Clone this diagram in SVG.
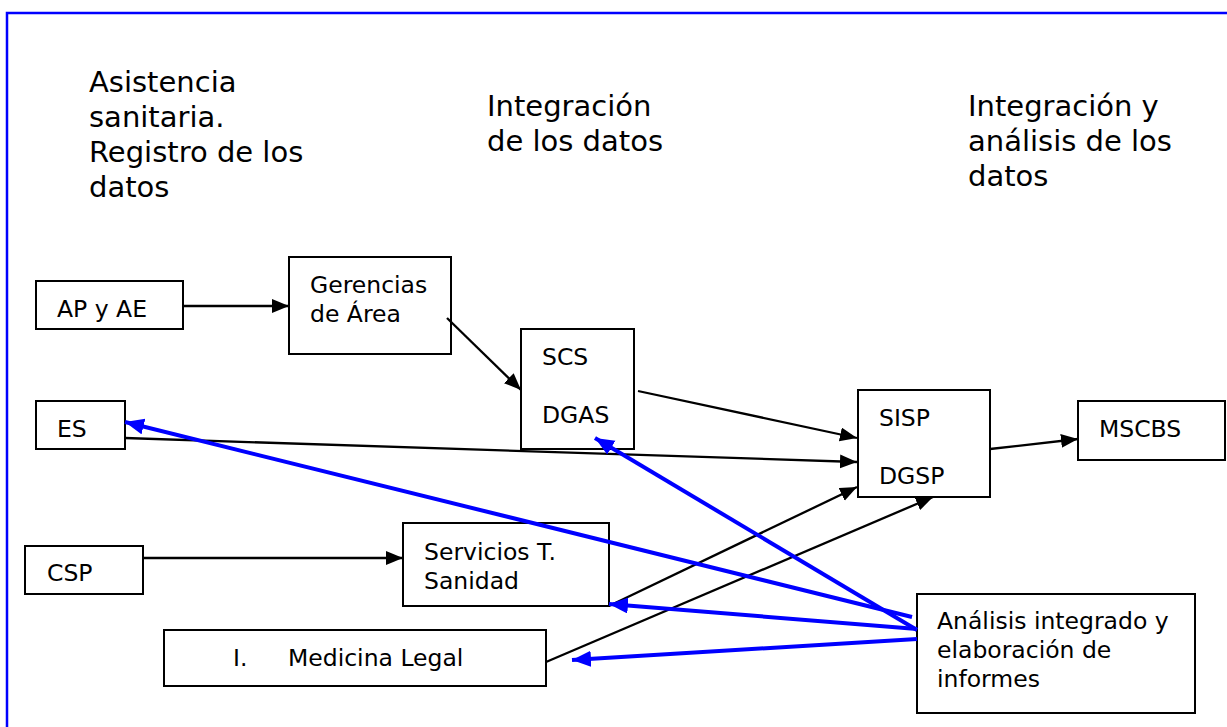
<svg xmlns="http://www.w3.org/2000/svg" width="1227" height="727" viewBox="0 0 1227 727">
<style>
.bg{fill:#fff}
.frame{fill:none;stroke:#0000ff;stroke-width:2.5}
.box{fill:#fff;stroke:#000;stroke-width:2}
.h{font-family:"DejaVu Sans",Verdana,sans-serif;font-size:29px;fill:#000}
.t{font-family:"DejaVu Sans",Verdana,sans-serif;font-size:23.5px;fill:#000}
.k{fill:none;stroke:#000;stroke-width:2.3}
.b{fill:none;stroke:#0000ff;stroke-width:4}
</style>
<defs>
<marker id="ak" markerUnits="userSpaceOnUse" markerWidth="20" markerHeight="16" refX="17" refY="7" orient="auto" viewBox="0 0 20 16">
<path d="M0,0 L17,7 L0,14 z" fill="#000"/>
</marker>
<marker id="ab" markerUnits="userSpaceOnUse" markerWidth="22" markerHeight="18" refX="19" refY="8" orient="auto" viewBox="0 0 22 18">
<path d="M0,0 L19,8 L0,16 z" fill="#0000ff"/>
</marker>
</defs>
<rect class="bg" x="0" y="0" width="1227" height="727"/>
<rect class="frame" x="7" y="13" width="1240" height="740"/>

<g id="headings">
<text class="h" x="89" y="92">Asistencia</text>
<text class="h" x="89" y="127">sanitaria.</text>
<text class="h" x="89" y="162">Registro de los</text>
<text class="h" x="89" y="197">datos</text>
<text class="h" x="487" y="116">Integración</text>
<text class="h" x="487" y="151">de los datos</text>
<text class="h" x="968" y="116">Integración y</text>
<text class="h" x="968" y="151">análisis de los</text>
<text class="h" x="968" y="186">datos</text>
</g>

<g id="ap-ae"><rect class="box" x="36" y="281" width="147" height="48"/><text class="t" x="57" y="317">AP y AE</text></g>
<g id="gerencias"><rect class="box" x="289" y="257" width="162" height="97"/><text class="t" x="310" y="293">Gerencias</text><text class="t" x="310" y="322">de Área</text></g>
<g id="es"><rect class="box" x="36" y="401" width="89" height="48"/><text class="t" x="57" y="437">ES</text></g>
<g id="scs"><rect class="box" x="521" y="329" width="113" height="120"/><text class="t" x="542" y="365">SCS</text><text class="t" x="542" y="423">DGAS</text></g>
<g id="sisp"><rect class="box" x="858" y="390" width="132" height="107"/><text class="t" x="879" y="426">SISP</text><text class="t" x="879" y="484">DGSP</text></g>
<g id="mscbs"><rect class="box" x="1078" y="401" width="147" height="59"/><text class="t" x="1099" y="437">MSCBS</text></g>
<g id="csp"><rect class="box" x="25" y="546" width="118" height="48"/><text class="t" x="47" y="581">CSP</text></g>
<g id="servicios"><rect class="box" x="403" y="523" width="206" height="83"/><text class="t" x="424" y="560">Servicios T.</text><text class="t" x="424" y="589">Sanidad</text></g>
<g id="medicina"><rect class="box" x="164" y="630" width="382" height="56"/><text class="t" x="233" y="666">I.</text><text class="t" x="288" y="666">Medicina Legal</text></g>
<g id="analisis"><rect class="box" x="917" y="594" width="278" height="119"/><text class="t" x="937" y="629">Análisis integrado y</text><text class="t" x="937" y="658">elaboración de</text><text class="t" x="937" y="687">informes</text></g>

<g id="connectors">
<line class="k" x1="183" y1="306" x2="289" y2="306" marker-end="url(#ak)"/>
<line class="k" x1="447" y1="318" x2="521" y2="390" marker-end="url(#ak)"/>
<line class="k" x1="638" y1="391" x2="857" y2="438" marker-end="url(#ak)"/>
<line class="k" x1="125" y1="438" x2="857" y2="462" marker-end="url(#ak)"/>
<line class="k" x1="609" y1="606" x2="857" y2="487" marker-end="url(#ak)"/>
<line class="k" x1="546" y1="662" x2="933" y2="497" marker-end="url(#ak)"/>
<line class="k" x1="990" y1="449" x2="1078" y2="439" marker-end="url(#ak)"/>
<line class="k" x1="143" y1="558" x2="403" y2="558" marker-end="url(#ak)"/>
<line class="b" x1="912" y1="617" x2="125" y2="422" marker-end="url(#ab)"/>
<line class="b" x1="917" y1="630" x2="595" y2="438" marker-end="url(#ab)"/>
<line class="b" x1="917" y1="629" x2="609" y2="604" marker-end="url(#ab)"/>
<line class="b" x1="917" y1="639" x2="572" y2="660" marker-end="url(#ab)"/>
</g>
</svg>
